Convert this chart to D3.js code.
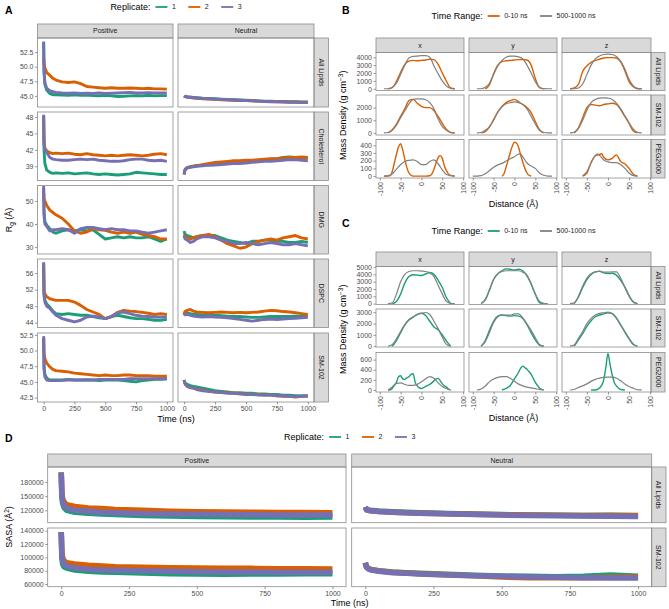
<!DOCTYPE html>
<html>
<head>
<meta charset="utf-8">
<script src="https://cdn.jsdelivr.net/npm/d3@7"></script>
<style>
  body { margin: 0; background: #fff; }
  svg text { font-family: "Liberation Sans", Arial, Helvetica, sans-serif; }
</style>
</head>
<body>
<svg id="fig" width="669" height="609"></svg>
<script>
// ---------- data ----------
var repColors = ["#1b9e77", "#d95f02", "#7570b3"];
var replicateLabels = ["1", "2", "3"];
var charges = ["Positive", "Neutral"];
var rgGroups = ["All Lipids", "Cholesterol", "DMG", "DSPC", "SM-102"];
var sasaGroups = ["All Lipids", "SM-102"];
var axes3 = ["x", "y", "z"];
var densGroups = ["All Lipids", "SM-102", "PEG2000"];
var timeLabels = ["0-10 ns", "500-1000 ns"];

// Rg (A) - time grid and replicate values (green, orange, purple)
var tA = [0, 3, 10, 25, 50, 75, 100, 150, 200, 250, 300, 350, 400, 450, 500, 550, 600, 650, 700, 750, 800, 850, 900, 950, 1000];

var rgAllLipidsPos = [
  [54.2, 49.0, 47.0, 46.0, 45.4, 45.2, 45.2, 45.15, 45.1, 45.2, 45.1, 45.15, 45.05, 45.0, 45.1, 45.0, 44.9, 44.95, 45.0, 45.05, 45.0, 45.1, 45.0, 45.05, 45.05],
  [51.5, 50.5, 49.8, 49.0, 48.5, 48.0, 47.7, 47.4, 47.3, 47.4, 47.1, 46.6, 46.5, 46.4, 46.3, 46.4, 46.3, 46.3, 46.35, 46.3, 46.25, 46.3, 46.2, 46.2, 46.15],
  [54.3, 49.5, 47.2, 46.3, 45.9, 45.7, 45.6, 45.5, 45.45, 45.5, 45.4, 45.45, 45.4, 45.5, 45.4, 45.45, 45.5, 45.55, 45.6, 45.5, 45.5, 45.55, 45.5, 45.5, 45.5]
];
var rgAllLipidsNeu = [
  [45.0, 44.95, 44.9, 44.85, 44.8, 44.75, 44.7, 44.6, 44.55, 44.5, 44.45, 44.4, 44.35, 44.3, 44.25, 44.2, 44.15, 44.1, 44.1, 44.05, 44.05, 44.0, 44.0, 43.95, 43.95],
  [45.0, 44.95, 44.9, 44.8, 44.7, 44.65, 44.6, 44.5, 44.45, 44.4, 44.35, 44.3, 44.25, 44.2, 44.2, 44.15, 44.1, 44.05, 44.05, 44.0, 44.0, 43.95, 43.95, 43.9, 43.9],
  [44.95, 44.9, 44.85, 44.8, 44.75, 44.7, 44.65, 44.55, 44.5, 44.45, 44.4, 44.35, 44.3, 44.25, 44.2, 44.15, 44.1, 44.05, 44.0, 44.0, 43.95, 43.9, 43.9, 43.85, 43.85]
];
var rgCholesterolPos = [
  [48.2, 42.0, 39.5, 38.3, 37.9, 37.7, 37.8, 37.7, 37.8, 37.6, 37.7, 37.8, 37.6, 37.5, 37.6, 37.5, 37.4, 37.5, 37.6, 37.9, 37.8, 37.7, 37.6, 37.5, 37.5],
  [48.0, 43.5, 42.3, 41.8, 41.5, 41.3, 41.4, 41.3, 41.4, 41.2, 41.1, 41.3, 41.1, 41.0, 40.9, 41.0, 40.9, 41.0, 41.1, 41.0, 40.9, 41.0, 41.2, 41.3, 41.1],
  [48.4, 43.0, 42.0, 41.5, 40.6, 40.3, 40.2, 40.1, 40.1, 40.2, 40.3, 40.2, 40.3, 40.1, 40.0, 39.9, 39.9, 40.0, 40.2, 40.3, 40.3, 40.1, 40.0, 40.1, 39.9]
];
var rgCholesterolNeu = [
  [37.6, 38.2, 38.5, 38.8, 38.9, 39.0, 39.1, 39.2, 39.2, 39.3, 39.4, 39.5, 39.6, 39.7, 39.8, 39.9, 40.0, 40.1, 40.3, 40.4, 40.6, 40.7, 40.6, 40.5, 40.5],
  [37.5, 38.1, 38.5, 38.7, 38.9, 39.0, 39.1, 39.3, 39.5, 39.7, 39.8, 39.9, 40.0, 40.0, 40.1, 40.1, 40.2, 40.3, 40.4, 40.4, 40.5, 40.6, 40.6, 40.7, 40.6],
  [37.5, 38.0, 38.4, 38.7, 38.8, 38.9, 39.0, 39.1, 39.2, 39.2, 39.3, 39.4, 39.5, 39.5, 39.6, 39.7, 39.8, 39.9, 39.9, 40.0, 40.1, 40.2, 40.2, 40.1, 40.0]
];
var rgDMGPos = [
  [55.5, 45.0, 41.0, 39.5, 38.0, 36.5, 36.0, 37.0, 37.5, 37.0, 37.5, 37.0, 37.5, 35.5, 33.5, 34.0, 34.5, 34.0, 34.5, 34.0, 34.0, 34.5, 33.5, 32.5, 33.5],
  [54.0, 51.0, 50.0, 48.0, 46.0, 45.0, 44.0, 42.5, 40.0, 37.0, 36.0, 36.5, 38.0, 37.5, 37.3, 36.5, 36.0, 36.5, 36.0, 36.5, 35.5, 35.0, 34.5, 33.5, 33.5],
  [56.5, 44.0, 40.0, 39.0, 37.0, 37.5, 37.5, 38.0, 37.5, 36.0, 38.0, 38.5, 38.5, 38.0, 37.5, 38.0, 37.5, 37.5, 37.0, 37.0, 36.5, 36.0, 36.5, 37.0, 37.5]
];
var rgDMGNeu = [
  [37.0, 36.0, 35.5, 35.0, 34.5, 34.0, 34.5, 35.0, 35.0, 35.0, 34.0, 33.0, 32.5, 32.0, 31.5, 32.5, 32.5, 33.0, 33.0, 32.5, 32.5, 32.0, 32.0, 32.5, 32.0],
  [35.5, 35.0, 34.0, 34.0, 33.5, 34.0, 34.5, 35.0, 35.5, 34.5, 33.0, 31.5, 30.5, 29.5, 30.0, 31.5, 32.5, 33.0, 33.5, 33.0, 34.0, 34.5, 35.0, 34.0, 33.5],
  [35.0, 34.0, 33.5, 33.0, 32.0, 32.5, 33.5, 34.5, 34.5, 34.0, 33.0, 32.5, 31.5, 31.5, 32.0, 31.5, 31.0, 31.5, 32.0, 31.5, 31.0, 31.0, 31.5, 31.0, 30.5]
];
var rgDSPCPos = [
  [58.5, 51.0, 49.5, 48.5, 47.8, 46.8, 46.2, 46.0, 46.2, 46.0, 45.8, 45.8, 45.5, 45.2, 45.0, 45.5, 45.8, 45.5, 45.2, 45.0, 45.0, 44.8, 44.6, 44.6, 44.8],
  [58.0, 51.5, 51.0, 50.3, 49.8, 49.6, 49.4, 49.4, 49.4, 49.0, 48.2, 47.2, 46.6, 46.0, 45.0, 45.5, 46.5, 47.0, 46.8, 46.7, 46.5, 46.3, 46.0, 46.2, 46.0],
  [58.6, 50.5, 49.0, 48.0, 47.5, 46.6, 45.8, 45.0, 44.6, 44.2, 44.6, 45.4, 45.6, 45.4, 45.0, 45.5, 46.4, 46.6, 46.2, 45.8, 45.6, 45.5, 45.4, 45.4, 45.4]
];
var rgDSPCNeu = [
  [45.8, 46.2, 46.3, 46.3, 46.2, 46.0, 46.0, 45.9, 45.8, 45.8, 45.7, 45.6, 45.5, 45.5, 45.4, 45.3, 45.3, 45.4, 45.5, 45.5, 45.5, 45.5, 45.6, 45.5, 45.6],
  [46.0, 46.5, 46.8, 47.0, 47.2, 46.8, 46.6, 46.5, 46.4, 46.5, 46.6, 46.5, 46.4, 46.5, 46.4, 46.5, 46.6, 46.8, 47.0, 46.9, 46.7, 46.6, 46.4, 46.2, 46.0],
  [45.7, 45.8, 46.0, 46.0, 45.8, 45.6, 45.5, 45.4, 45.5, 45.4, 45.3, 45.2, 45.0, 44.8, 44.6, 44.4, 44.6, 44.8, 44.9, 44.8, 44.9, 45.0, 45.1, 45.2, 45.3]
];
var rgSM102Pos = [
  [52.0, 47.5, 46.2, 45.6, 45.3, 45.3, 45.3, 45.3, 45.4, 45.3, 45.3, 45.3, 45.3, 45.2, 45.3, 45.3, 45.3, 45.2, 45.1, 45.0, 45.2, 45.3, 45.4, 45.4, 45.5],
  [52.0, 49.5, 48.7, 48.0, 47.4, 47.0, 46.8, 46.7, 46.6, 46.4, 46.3, 46.2, 46.1, 46.0, 46.1, 46.0, 46.0, 46.1, 46.1, 46.0, 46.0, 46.0, 45.9, 45.9, 45.9],
  [52.3, 47.0, 45.8, 45.3, 45.2, 45.2, 45.2, 45.25, 45.3, 45.3, 45.3, 45.35, 45.3, 45.4, 45.4, 45.4, 45.4, 45.4, 45.5, 45.5, 45.5, 45.5, 45.5, 45.5, 45.5]
];
var rgSM102Neu = [
  [45.3, 45.0, 44.8, 44.6, 44.4, 44.3, 44.2, 44.0, 43.8, 43.6, 43.5, 43.4, 43.3, 43.3, 43.2, 43.2, 43.1, 43.1, 43.0, 43.0, 42.9, 42.9, 42.8, 42.8, 42.8],
  [45.3, 44.9, 44.6, 44.3, 44.1, 44.0, 43.9, 43.7, 43.5, 43.4, 43.3, 43.3, 43.2, 43.1, 43.1, 43.0, 43.0, 42.9, 42.9, 42.8, 42.7, 42.7, 42.6, 42.7, 42.7],
  [45.3, 44.9, 44.6, 44.3, 44.1, 44.0, 43.8, 43.6, 43.5, 43.4, 43.3, 43.2, 43.2, 43.1, 43.0, 43.0, 42.9, 42.9, 42.9, 42.8, 42.8, 42.7, 42.7, 42.7, 42.8]
];
var rgTicks = [[45, 47.5, 50, 52.5], [39, 42, 45, 48], [30, 40, 50], [44, 48, 52, 56], [42.5, 45, 47.5, 50, 52.5]];
var rgLimits = [[43.1, 54.9], [36.4, 48.9], [27, 56.7], [42.85, 59.4], [41.8, 52.8]];

// SASA (D)
var tD = [0, 2, 5, 10, 20, 50, 100, 150, 200, 300, 400, 500, 600, 700, 800, 900, 1000];
var sasaAllLipidsPos = [
  [200000, 150000, 135000, 126000, 120000, 116000, 114000, 112000, 111000, 109000, 108000, 107000, 106500, 106000, 106000, 105500, 106000],
  [200000, 160000, 145000, 138000, 132000, 128000, 125000, 124000, 122000, 120000, 118000, 117000, 116500, 116000, 115500, 115500, 115000],
  [200000, 155000, 138000, 130000, 125000, 120000, 118000, 116000, 115000, 113000, 112000, 111500, 111000, 110500, 110000, 110000, 110000]
];
var sasaAllLipidsNeu = [
  [127000, 124500, 122000, 121000, 120000, 118500, 117000, 116000, 115000, 113500, 112000, 111000, 110000, 109500, 109000, 109500, 108500],
  [127000, 124000, 121000, 120000, 119000, 117500, 116000, 115000, 114000, 112500, 111500, 110500, 110000, 109500, 109000, 109000, 109000],
  [127000, 124000, 121000, 120000, 119000, 117500, 116000, 115000, 114000, 112500, 111000, 110000, 109000, 108500, 108000, 107500, 107000]
];
var sasaSM102Pos = [
  [138000, 100000, 90000, 86000, 84000, 81000, 79000, 78000, 77500, 76500, 75500, 75000, 74500, 75000, 75000, 75500, 75500],
  [138000, 110000, 100000, 95000, 92000, 90000, 88000, 87000, 86000, 85000, 84500, 84000, 83500, 83500, 83000, 83000, 82500],
  [138000, 105000, 95000, 90000, 87000, 84000, 82000, 81000, 80500, 80000, 79000, 78500, 78000, 78000, 77500, 77500, 77500]
];
var sasaSM102Neu = [
  [92000, 89000, 86000, 84000, 82000, 80000, 78000, 77000, 76000, 74500, 73000, 72000, 71500, 71000, 71500, 73500, 71500],
  [92000, 88000, 85000, 83500, 82000, 79500, 77500, 76500, 75500, 74000, 72500, 70500, 69500, 69500, 69500, 70000, 70500],
  [92000, 88000, 85000, 83000, 81000, 79000, 77000, 76000, 75000, 73500, 72500, 71500, 70500, 70000, 69500, 69000, 69000]
];
var sasaTicks = [[120000, 150000, 180000], [60000, 80000, 100000, 120000, 140000]];
var sasaLimits = [[93800, 211700], [56000, 144000]];

// Mass density (B: orange early vs grey late), [distance, density]
var densBAllX = {
  early: [[-80,0],[-70,150],[-60,950],[-50,2100],[-40,3100],[-30,3500],[-20,3600],[-10,3550],[0,3600],[10,3650],[20,3750],[30,3700],[40,3100],[50,2000],[60,950],[70,100],[80,0]],
  late: [[-90,0],[-80,0],[-70,200],[-60,700],[-50,1800],[-40,3000],[-30,3900],[-20,4100],[-10,4150],[0,4200],[10,4200],[20,4000],[30,2900],[40,1900],[50,1000],[60,330],[70,50],[80,0]]
};
var densBAllY = {
  early: [[-70,0],[-60,500],[-50,1900],[-40,3000],[-30,3450],[-20,3550],[-10,3600],[0,3650],[10,3700],[20,3700],[30,3650],[40,3000],[50,1300],[60,150],[70,0]],
  late: [[-90,0],[-80,0],[-70,200],[-60,700],[-50,1800],[-40,2900],[-30,3600],[-20,4000],[-10,4150],[0,4150],[10,4050],[20,3800],[30,3000],[40,2000],[50,900],[60,200],[70,20],[80,0],[90,0]]
};
var densBAllZ = {
  early: [[-90,0],[-80,100],[-70,550],[-60,2200],[-50,2900],[-40,3350],[-30,3600],[-20,3750],[-10,3900],[0,3950],[10,3950],[20,3900],[30,3400],[40,2300],[50,900],[60,250],[70,0],[80,0]],
  late: [[-90,0],[-80,0],[-70,100],[-60,600],[-50,1800],[-40,3000],[-30,3800],[-20,4150],[-10,4350],[0,4400],[10,4350],[20,4100],[30,3500],[40,2500],[50,1200],[60,350],[70,50],[80,0]]
};
var densBSMX = {
  early: [[-80,0],[-70,250],[-60,700],[-50,1300],[-40,1900],[-30,2550],[-20,2650],[-10,2350],[0,2100],[10,2000],[20,2000],[30,1750],[40,1300],[50,750],[60,260],[70,30],[80,0]],
  late: [[-90,0],[-80,30],[-70,200],[-60,600],[-50,1200],[-40,1750],[-30,2300],[-20,2650],[-10,2700],[0,2700],[10,2620],[20,2400],[30,1900],[40,1100],[50,500],[60,200],[70,30],[80,0]]
};
var densBSMY = {
  early: [[-80,0],[-70,100],[-60,450],[-50,1050],[-40,1650],[-30,2100],[-20,2400],[-10,2550],[0,2650],[10,2450],[20,2250],[30,2000],[40,1600],[50,900],[60,250],[70,0]],
  late: [[-90,0],[-80,30],[-70,200],[-60,500],[-50,1000],[-40,1650],[-30,2050],[-20,2300],[-10,2400],[0,2450],[10,2400],[20,2250],[30,1900],[40,1300],[50,700],[60,200],[70,30],[80,0],[90,0]]
};
var densBSMZ = {
  early: [[-80,0],[-70,400],[-60,1200],[-50,2000],[-40,2250],[-30,2200],[-20,2150],[-10,2250],[0,2300],[10,2350],[20,2250],[30,1850],[40,1300],[50,750],[60,150],[70,0]],
  late: [[-90,0],[-80,50],[-70,350],[-60,1000],[-50,1800],[-40,2400],[-30,2650],[-20,2750],[-10,2780],[0,2750],[10,2650],[20,2350],[30,1900],[40,1350],[50,800],[60,300],[70,50],[80,0]]
};
var densBPegX = {
  early: [[-90,0],[-80,0],[-75,5],[-70,60],[-65,170],[-60,280],[-55,380],[-50,420],[-45,340],[-40,220],[-35,110],[-30,40],[-25,10],[-20,0],[-10,0],[0,0],[10,0],[20,5],[25,30],[30,90],[35,170],[40,240],[45,265],[50,230],[55,130],[60,70],[65,25],[70,10],[80,0]],
  late: [[-90,0],[-80,5],[-70,30],[-60,90],[-50,150],[-40,190],[-30,205],[-20,210],[-10,190],[0,150],[10,150],[20,190],[30,210],[40,160],[50,80],[60,20],[70,5],[80,0]]
};
var densBPegY = {
  early: [[-30,0],[-25,30],[-20,120],[-15,210],[-10,310],[-5,390],[0,440],[5,430],[10,370],[15,270],[20,180],[25,100],[30,40],[35,10],[40,0]],
  late: [[-100,0],[-90,0],[-80,5],[-70,30],[-60,70],[-50,115],[-40,145],[-30,165],[-20,195],[-10,225],[0,250],[10,285],[15,285],[20,250],[30,170],[40,130],[50,100],[60,40],[70,10],[80,0],[90,0]]
};
var densBPegZ = {
  early: [[-60,0],[-50,40],[-40,180],[-30,260],[-20,280],[-15,290],[-10,240],[0,210],[10,230],[20,275],[30,190],[40,160],[50,100],[60,25],[70,0]],
  late: [[-60,0],[-50,60],[-40,170],[-30,270],[-25,290],[-20,270],[-10,210],[0,185],[10,175],[20,175],[30,150],[40,100],[50,40],[60,5],[70,0]]
};

// Mass density (C: green early vs grey late)
var densCAllX = {
  early: [[-70,0],[-60,300],[-50,1300],[-40,2800],[-30,3700],[-20,3950],[-10,3900],[0,3850],[10,4050],[20,4250],[30,4000],[40,3200],[50,2200],[60,800],[70,0]],
  late: [[-80,0],[-70,100],[-60,1300],[-50,3000],[-40,4000],[-30,4400],[-20,4500],[-10,4500],[0,4450],[10,4400],[20,4200],[30,3700],[40,2500],[50,1300],[60,300],[70,30],[80,0]]
};
var densCAllY = {
  early: [[-80,0],[-70,500],[-60,1900],[-50,3300],[-40,4100],[-30,4500],[-20,4750],[-10,4700],[0,4600],[10,4700],[20,4500],[30,3800],[40,2700],[50,1300],[60,150],[70,0]],
  late: [[-80,0],[-70,600],[-60,1800],[-50,3300],[-40,4100],[-30,4400],[-20,4500],[-10,4500],[0,4500],[10,4500],[20,4300],[30,3900],[40,2700],[50,1300],[60,300],[70,50],[80,0]]
};
var densCAllZ = {
  early: [[-80,0],[-70,900],[-60,2200],[-50,3300],[-40,4000],[-30,4350],[-20,4450],[-10,4200],[0,4100],[10,4150],[20,3900],[30,3200],[40,2300],[50,1100],[60,250],[70,0]],
  late: [[-90,0],[-80,100],[-70,1000],[-60,2400],[-50,3500],[-40,4100],[-30,4350],[-20,4400],[-10,4300],[0,4300],[10,4350],[20,4350],[30,3500],[40,2200],[50,1000],[60,200],[70,0]]
};
var densCSMX = {
  early: [[-70,0],[-60,500],[-50,1200],[-40,1850],[-30,2300],[-20,2550],[-10,2800],[0,2900],[10,2700],[20,2200],[30,1700],[40,1450],[50,1000],[60,450],[70,0]],
  late: [[-80,0],[-70,150],[-60,650],[-50,1300],[-40,1900],[-30,2350],[-20,2600],[-10,2800],[0,2900],[10,2970],[20,2800],[30,2200],[40,1550],[50,800],[60,150],[70,0]]
};
var densCSMY = {
  early: [[-80,0],[-70,500],[-60,1400],[-50,2200],[-40,2650],[-30,2750],[-20,2700],[-10,2650],[0,2700],[10,2650],[20,2450],[30,1900],[40,1200],[50,550],[60,100],[70,0]],
  late: [[-80,0],[-70,400],[-60,1200],[-50,2100],[-40,2600],[-30,2750],[-20,2750],[-10,2750],[0,2850],[10,2850],[20,2500],[30,1950],[40,1400],[50,750],[60,150],[70,0]]
};
var densCSMZ = {
  early: [[-80,0],[-70,550],[-60,1100],[-50,1750],[-40,2250],[-30,2600],[-20,2750],[-10,2850],[0,2950],[10,2900],[20,2500],[30,1900],[40,1250],[50,650],[60,150],[70,0]],
  late: [[-90,0],[-80,100],[-70,700],[-60,1300],[-50,2000],[-40,2450],[-30,2750],[-20,2900],[-10,2950],[0,3000],[10,2850],[20,2450],[30,1850],[40,1300],[50,700],[60,200],[70,0]]
};
var densCPegX = {
  early: [[-80,0],[-75,5],[-70,30],[-65,90],[-60,150],[-55,260],[-50,280],[-45,220],[-40,210],[-35,240],[-30,260],[-25,310],[-20,320],[-15,150],[-10,80],[-5,40],[0,30],[5,45],[10,70],[20,110],[30,180],[35,220],[40,230],[45,180],[50,120],[55,80],[60,55],[65,20],[70,0]],
  late: [[-80,0],[-70,60],[-60,130],[-50,140],[-40,110],[-30,90],[-20,90],[-10,110],[0,160],[10,220],[20,265],[30,230],[40,140],[50,70],[60,25],[70,0]]
};
var densCPegY = {
  early: [[-30,0],[-20,30],[-10,90],[0,220],[10,350],[15,430],[20,470],[25,440],[30,410],[35,360],[40,310],[50,150],[60,40],[65,10],[70,0]],
  late: [[-90,0],[-80,20],[-70,80],[-60,160],[-50,215],[-40,250],[-30,265],[-20,265],[-10,230],[0,170],[10,115],[20,80],[30,55],[40,40],[50,25],[60,10],[70,0]]
};
var densCPegZ = {
  early: [[-40,0],[-30,0],[-20,40],[-15,90],[-10,200],[-5,450],[0,720],[5,500],[10,300],[15,150],[20,80],[30,10],[40,0]],
  late: [[-90,0],[-80,10],[-70,50],[-60,80],[-50,120],[-40,170],[-30,210],[-20,235],[-10,250],[0,255],[10,255],[20,230],[30,180],[40,120],[50,70],[60,35],[70,5],[80,0]]
};
var distTicks = [-100, -50, 0, 50, 100];
var densBTicks = [[0, 1000, 2000, 3000, 4000], [0, 1000, 2000], [0, 100, 200, 300, 400]];
var densBLimits = [[-220, 4600], [-170, 3000], [-25, 475]];
var densCTicks = [[0, 1000, 2000, 3000, 4000, 5000], [0, 1000, 2000, 3000], [0, 200, 400, 600]];
var densCLimits = [[-120, 5080], [-70, 3280], [-40, 740]];
var timeTicks = [0, 250, 500, 750, 1000];

// ---------- drawing ----------
var svg = d3.select("#fig");
var BORDER = "#8c8c8c";

function styleAxis(sel) {
  sel.select(".domain").remove();
  sel.attr("font-family", null).attr("font-size", null);
  sel.selectAll(".tick line").attr("stroke", "#333").attr("stroke-width", 0.5);
  sel.selectAll(".tick text").attr("fill", "#4d4d4d").attr("font-size", 7);
}

function facetGrid(cfg) {
  var g = svg.append("g");
  var top = cfg.rows[0][0];
  var rightX = cfg.cols[cfg.cols.length - 1][1];

  cfg.cols.forEach(function(c, j) {
    g.append("rect").attr("x", c[0]).attr("y", cfg.stripTop)
      .attr("width", c[1] - c[0]).attr("height", top - cfg.stripTop)
      .attr("fill", "#d9d9d9").attr("stroke", BORDER).attr("stroke-width", 0.8);
    g.append("text").attr("x", (c[0] + c[1]) / 2).attr("y", (cfg.stripTop + top) / 2)
      .attr("dy", "0.35em").attr("text-anchor", "middle")
      .attr("font-size", 7).attr("fill", "#1a1a1a").text(cfg.colLabels[j]);
  });

  cfg.rows.forEach(function(r, i) {
    g.append("rect").attr("x", rightX).attr("y", r[0])
      .attr("width", cfg.stripW).attr("height", r[1] - r[0])
      .attr("fill", "#d9d9d9").attr("stroke", BORDER).attr("stroke-width", 0.8);
    g.append("text")
      .attr("transform", "translate(" + (rightX + cfg.stripW / 2) + "," + ((r[0] + r[1]) / 2) + ") rotate(90)")
      .attr("dy", "0.35em").attr("text-anchor", "middle")
      .attr("font-size", 7).attr("fill", "#1a1a1a").text(cfg.rowLabels[i]);

    var y = d3.scaleLinear().domain(cfg.yLimits[i]).range([r[1], r[0]]);
    g.append("g").attr("transform", "translate(" + cfg.cols[0][0] + ",0)")
      .call(d3.axisLeft(y).tickValues(cfg.yTicks[i]).tickSize(2.5).tickPadding(1.5)
        .tickFormat(cfg.yFormat[i]))
      .call(styleAxis);

    cfg.cols.forEach(function(c, j) {
      var x = d3.scaleLinear().domain(cfg.xLimits).range([c[0], c[1]]);
      var clipId = "clip" + cfg.id + i + j;
      g.append("clipPath").attr("id", clipId).append("rect")
        .attr("x", c[0]).attr("y", r[0]).attr("width", c[1] - c[0]).attr("height", r[1] - r[0]);
      var pg = g.append("g").attr("clip-path", "url(#" + clipId + ")");
      cfg.draw(pg, x, y, i, j);
      g.append("rect").attr("x", c[0]).attr("y", r[0])
        .attr("width", c[1] - c[0]).attr("height", r[1] - r[0])
        .attr("fill", "none").attr("stroke", BORDER).attr("stroke-width", 0.8);
      if (i === cfg.rows.length - 1) {
        var ax = g.append("g").attr("transform", "translate(0," + r[1] + ")")
          .call(d3.axisBottom(x).tickValues(cfg.xTicks).tickSize(2.5).tickPadding(1.5)
            .tickFormat(function(d) { return String(d); }))
          .call(styleAxis);
        if (cfg.rotateX) {
          ax.selectAll(".tick text").attr("transform", "rotate(-90)")
            .attr("x", -4).attr("y", 0).attr("dy", "0.35em").attr("text-anchor", "end");
        }
      }
    });
  });
}

function legend(cx, cy, title, labels, colors) {
  var lg = svg.append("g");
  var t = lg.append("text").attr("x", 0).attr("y", cy).attr("dy", "0.35em")
    .attr("font-size", 9).attr("fill", "#000").text(title);
  var x = t.node().getComputedTextLength() + 5;
  labels.forEach(function(lab, k) {
    lg.append("line").attr("x1", x).attr("x2", x + 12).attr("y1", cy).attr("y2", cy)
      .attr("stroke", colors[k]).attr("stroke-width", 1.8);
    var tt = lg.append("text").attr("x", x + 16.5).attr("y", cy).attr("dy", "0.35em")
      .attr("font-size", 7).attr("fill", "#1a1a1a").text(lab);
    x += 16.5 + tt.node().getComputedTextLength() + 12.5;
  });
  var w = x - 12.5;
  lg.attr("transform", "translate(" + (cx - w / 2) + ",0)");
}

function tag(x, y, s) {
  svg.append("text").attr("x", x).attr("y", y).attr("font-size", 10.5)
    .attr("font-weight", "bold").attr("fill", "#000").text(s);
}

function xTitle(x, y, s) {
  svg.append("text").attr("x", x).attr("y", y).attr("text-anchor", "middle")
    .attr("font-size", 9).attr("fill", "#000").text(s);
}

function yTitle(x, y) {
  return svg.append("text").attr("transform", "translate(" + x + "," + y + ") rotate(-90)")
    .attr("text-anchor", "middle").attr("font-size", 9).attr("fill", "#000");
}

// ---- Panel A: radius of gyration
var rgData = [
  [rgAllLipidsPos, rgAllLipidsNeu],
  [rgCholesterolPos, rgCholesterolNeu],
  [rgDMGPos, rgDMGNeu],
  [rgDSPCPos, rgDSPCNeu],
  [rgSM102Pos, rgSM102Neu]
];
var f1 = d3.format(".1f"), f0 = d3.format("d");

tag(5, 14, "A");
legend(176, 7, "Replicate:", replicateLabels, repColors);
facetGrid({
  id: "A",
  cols: [[37.5, 173], [178, 314]],
  rows: [[38, 107], [112, 180.5], [185.5, 254], [259, 327.5], [333, 402]],
  stripTop: 24, stripW: 14.5,
  colLabels: charges, rowLabels: rgGroups,
  xLimits: [-50, 1050], xTicks: timeTicks,
  yLimits: rgLimits, yTicks: rgTicks, yFormat: [f1, f0, f0, f0, f1],
  draw: function(pg, x, y, i, j) {
    rgData[i][j].forEach(function(vals, k) {
      pg.append("path").datum(vals)
        .attr("d", d3.line().x(function(v, n) { return x(tA[n]); }).y(function(v) { return y(v); }))
        .attr("fill", "none").attr("stroke", repColors[k]).attr("stroke-width", 2.9)
        .attr("stroke-linejoin", "round");
    });
  }
});
xTitle(176, 422, "Time (ns)");
var rgT = yTitle(12, 220);
rgT.append("tspan").text("R");
rgT.append("tspan").attr("font-size", 6.5).attr("dy", 2).text("g");
rgT.append("tspan").attr("dy", -2).text(" (Å)");

// ---- Panels B and C: mass density
function densityPanel(id, tagY, legY, stripTop, rows, data, limits, ticks, earlyColor, titleY) {
  tag(342, tagY, id);
  legend(513.5, legY, "Time Range:", timeLabels, [earlyColor, "#808080"]);
  facetGrid({
    id: id,
    cols: [[376, 464], [469, 557], [562, 651]],
    rows: rows,
    stripTop: stripTop, stripW: 14,
    colLabels: axes3, rowLabels: densGroups,
    xLimits: [-109, 102], xTicks: distTicks, rotateX: true,
    yLimits: limits, yTicks: ticks, yFormat: [f0, f0, f0],
    draw: function(pg, x, y, i, j) {
      var s = data[i][j];
      var line = d3.line().curve(d3.curveMonotoneX)
        .x(function(p) { return x(p[0]); }).y(function(p) { return y(p[1]); });
      pg.append("path").datum(s.early).attr("d", line).attr("fill", "none")
        .attr("stroke", earlyColor).attr("stroke-width", 1.4);
      pg.append("path").datum(s.late).attr("d", line).attr("fill", "none")
        .attr("stroke", "#808080").attr("stroke-width", 1.2);
    }
  });
  xTitle(513.5, titleY, "Distance (Å)");
  var mid = (rows[0][0] + rows[rows.length - 1][1]) / 2;
  var yt = yTitle(346, mid);
  yt.append("tspan").text("Mass Density (g cm");
  yt.append("tspan").attr("font-size", 6.5).attr("dy", -3).text("−3");
  yt.append("tspan").attr("dy", 3).text(")");
}

densityPanel("B", 14, 16, 38,
  [[52.5, 90.5], [95, 135], [139.5, 178]],
  [[densBAllX, densBAllY, densBAllZ], [densBSMX, densBSMY, densBSMZ], [densBPegX, densBPegY, densBPegZ]],
  densBLimits, densBTicks, "#d95f02", 207);
densityPanel("C", 227, 231, 252,
  [[266.5, 304.5], [309, 347], [352.5, 392]],
  [[densCAllX, densCAllY, densCAllZ], [densCSMX, densCSMY, densCSMZ], [densCPegX, densCPegY, densCPegZ]],
  densCLimits, densCTicks, "#1b9e77", 421);

// ---- Panel D: SASA
var sasaData = [[sasaAllLipidsPos, sasaAllLipidsNeu], [sasaSM102Pos, sasaSM102Neu]];
tag(5, 441.5, "D");
legend(349.7, 437, "Replicate:", replicateLabels, repColors);
facetGrid({
  id: "D",
  cols: [[47.7, 346], [351.7, 651.7]],
  rows: [[467, 522.7], [528, 586.7]],
  stripTop: 454, stripW: 14.3,
  colLabels: charges, rowLabels: sasaGroups,
  xLimits: [-50, 1050], xTicks: timeTicks,
  yLimits: sasaLimits, yTicks: sasaTicks, yFormat: [f0, f0],
  draw: function(pg, x, y, i, j) {
    sasaData[i][j].forEach(function(vals, k) {
      pg.append("path").datum(vals)
        .attr("d", d3.line().x(function(v, n) { return x(tD[n]); }).y(function(v) { return y(v); }))
        .attr("fill", "none").attr("stroke", repColors[k]).attr("stroke-width", 5.5)
        .attr("stroke-linejoin", "round");
    });
  }
});
xTitle(349.7, 606, "Time (ns)");
var sT = yTitle(12, 527);
sT.append("tspan").text("SASA (Å");
sT.append("tspan").attr("font-size", 6.5).attr("dy", -3).text("2");
sT.append("tspan").attr("dy", 3).text(")");
</script>
</body>
</html>
